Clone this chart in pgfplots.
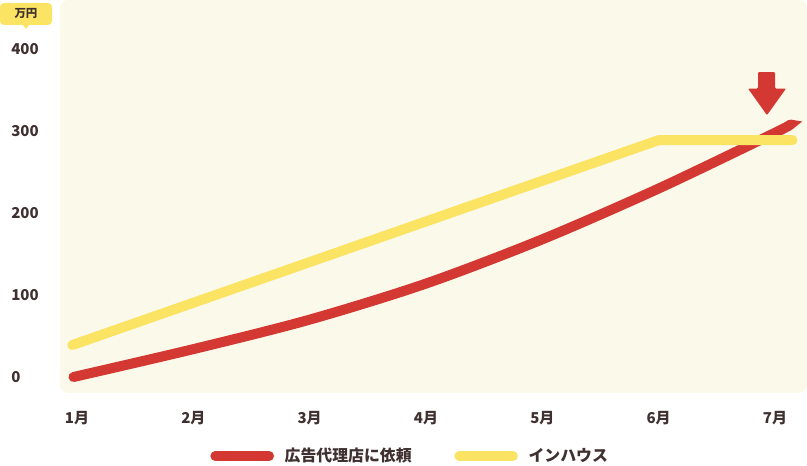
\documentclass[border=0pt]{standalone}
\usepackage{pgfplots}
\pgfplotsset{compat=1.18}
\usepackage{fontspec}
\setmainfont{Noto Sans CJK JP}
\definecolor{bg}{HTML}{FBF9EA}
\definecolor{myred}{HTML}{D33833}
\definecolor{myyel}{HTML}{FBE463}
\definecolor{txt}{HTML}{3F3130}
\begin{document}
\begin{tikzpicture}
\begin{axis}[
  at={(45pt,54.75pt)}, anchor=south west,
  scale only axis, width=560.25pt, height=294.75pt,
  xmin=0.854, xmax=7.275, ymin=-19.5, ymax=460,
  axis line style={draw=none},
  major tick length=0pt,
  xtick={1,2,3,4,5,6,7},
  xticklabels={1月,2月,3月,4月,5月,6月,7月},
  ytick={0,100,200,300,400},
  /pgf/number format/assume math mode=true,
  ticklabel style={font=\bfseries\fontsize{11.25}{13}\selectfont, text=txt, inner sep=0pt},
  yticklabel style={anchor=west, xshift=-36.75pt},
  xticklabel style={anchor=center, yshift=-18.75pt},
  axis background/.style={fill=bg, rounded corners=6pt},
  clip=false,
  legend style={at={(0.4692,-0.1603)}, anchor=center, draw=none, fill=none,
    font=\bfseries\fontsize{11.9}{13}\selectfont, text=txt, legend columns=2,
    /tikz/every odd column/.append style={column sep=6pt},
    /tikz/every even column/.append style={column sep=30pt}},
  legend image code/.code={\draw[#1, line width=7.5pt, line cap=round] (3.75pt,0pt) -- (44pt,0pt);},
]
\addplot[myred, line width=7.5pt, line cap=round, smooth] coordinates {
  (0.97,0) (2,34) (3,70) (4,114) (5,168) (6,230) (7,298) (7.13,308)
};
\addlegendentry{広告代理店に依頼}
\addplot[myyel, line width=7.5pt, line cap=round, line join=round] coordinates {
  (0.96,39) (6,289) (7.15,289)
};
\addlegendentry{インハウス}
\fill[myred, rounded corners=0.8pt] (axis cs:6.854,372) -- (axis cs:7.0,372) -- (axis cs:7.0,352) -- (axis cs:7.095,352) -- (axis cs:6.931,319.5) -- (axis cs:6.768,352) -- (axis cs:6.854,352) -- cycle;
\end{axis}
\fill[myyel, rounded corners=3pt] (0pt,330.75pt) rectangle (39pt,347.25pt);
\fill[myyel] (17pt,331pt) -- (19.5pt,327.75pt) -- (22pt,331pt) -- cycle;
\node[font=\bfseries\fontsize{8.6}{10}\selectfont, text=txt, inner sep=0pt] at (19.5pt,339pt) {万円};
\pgfresetboundingbox
\path (0pt,0pt) rectangle (605.25pt,349.5pt);
\end{tikzpicture}
\end{document}
